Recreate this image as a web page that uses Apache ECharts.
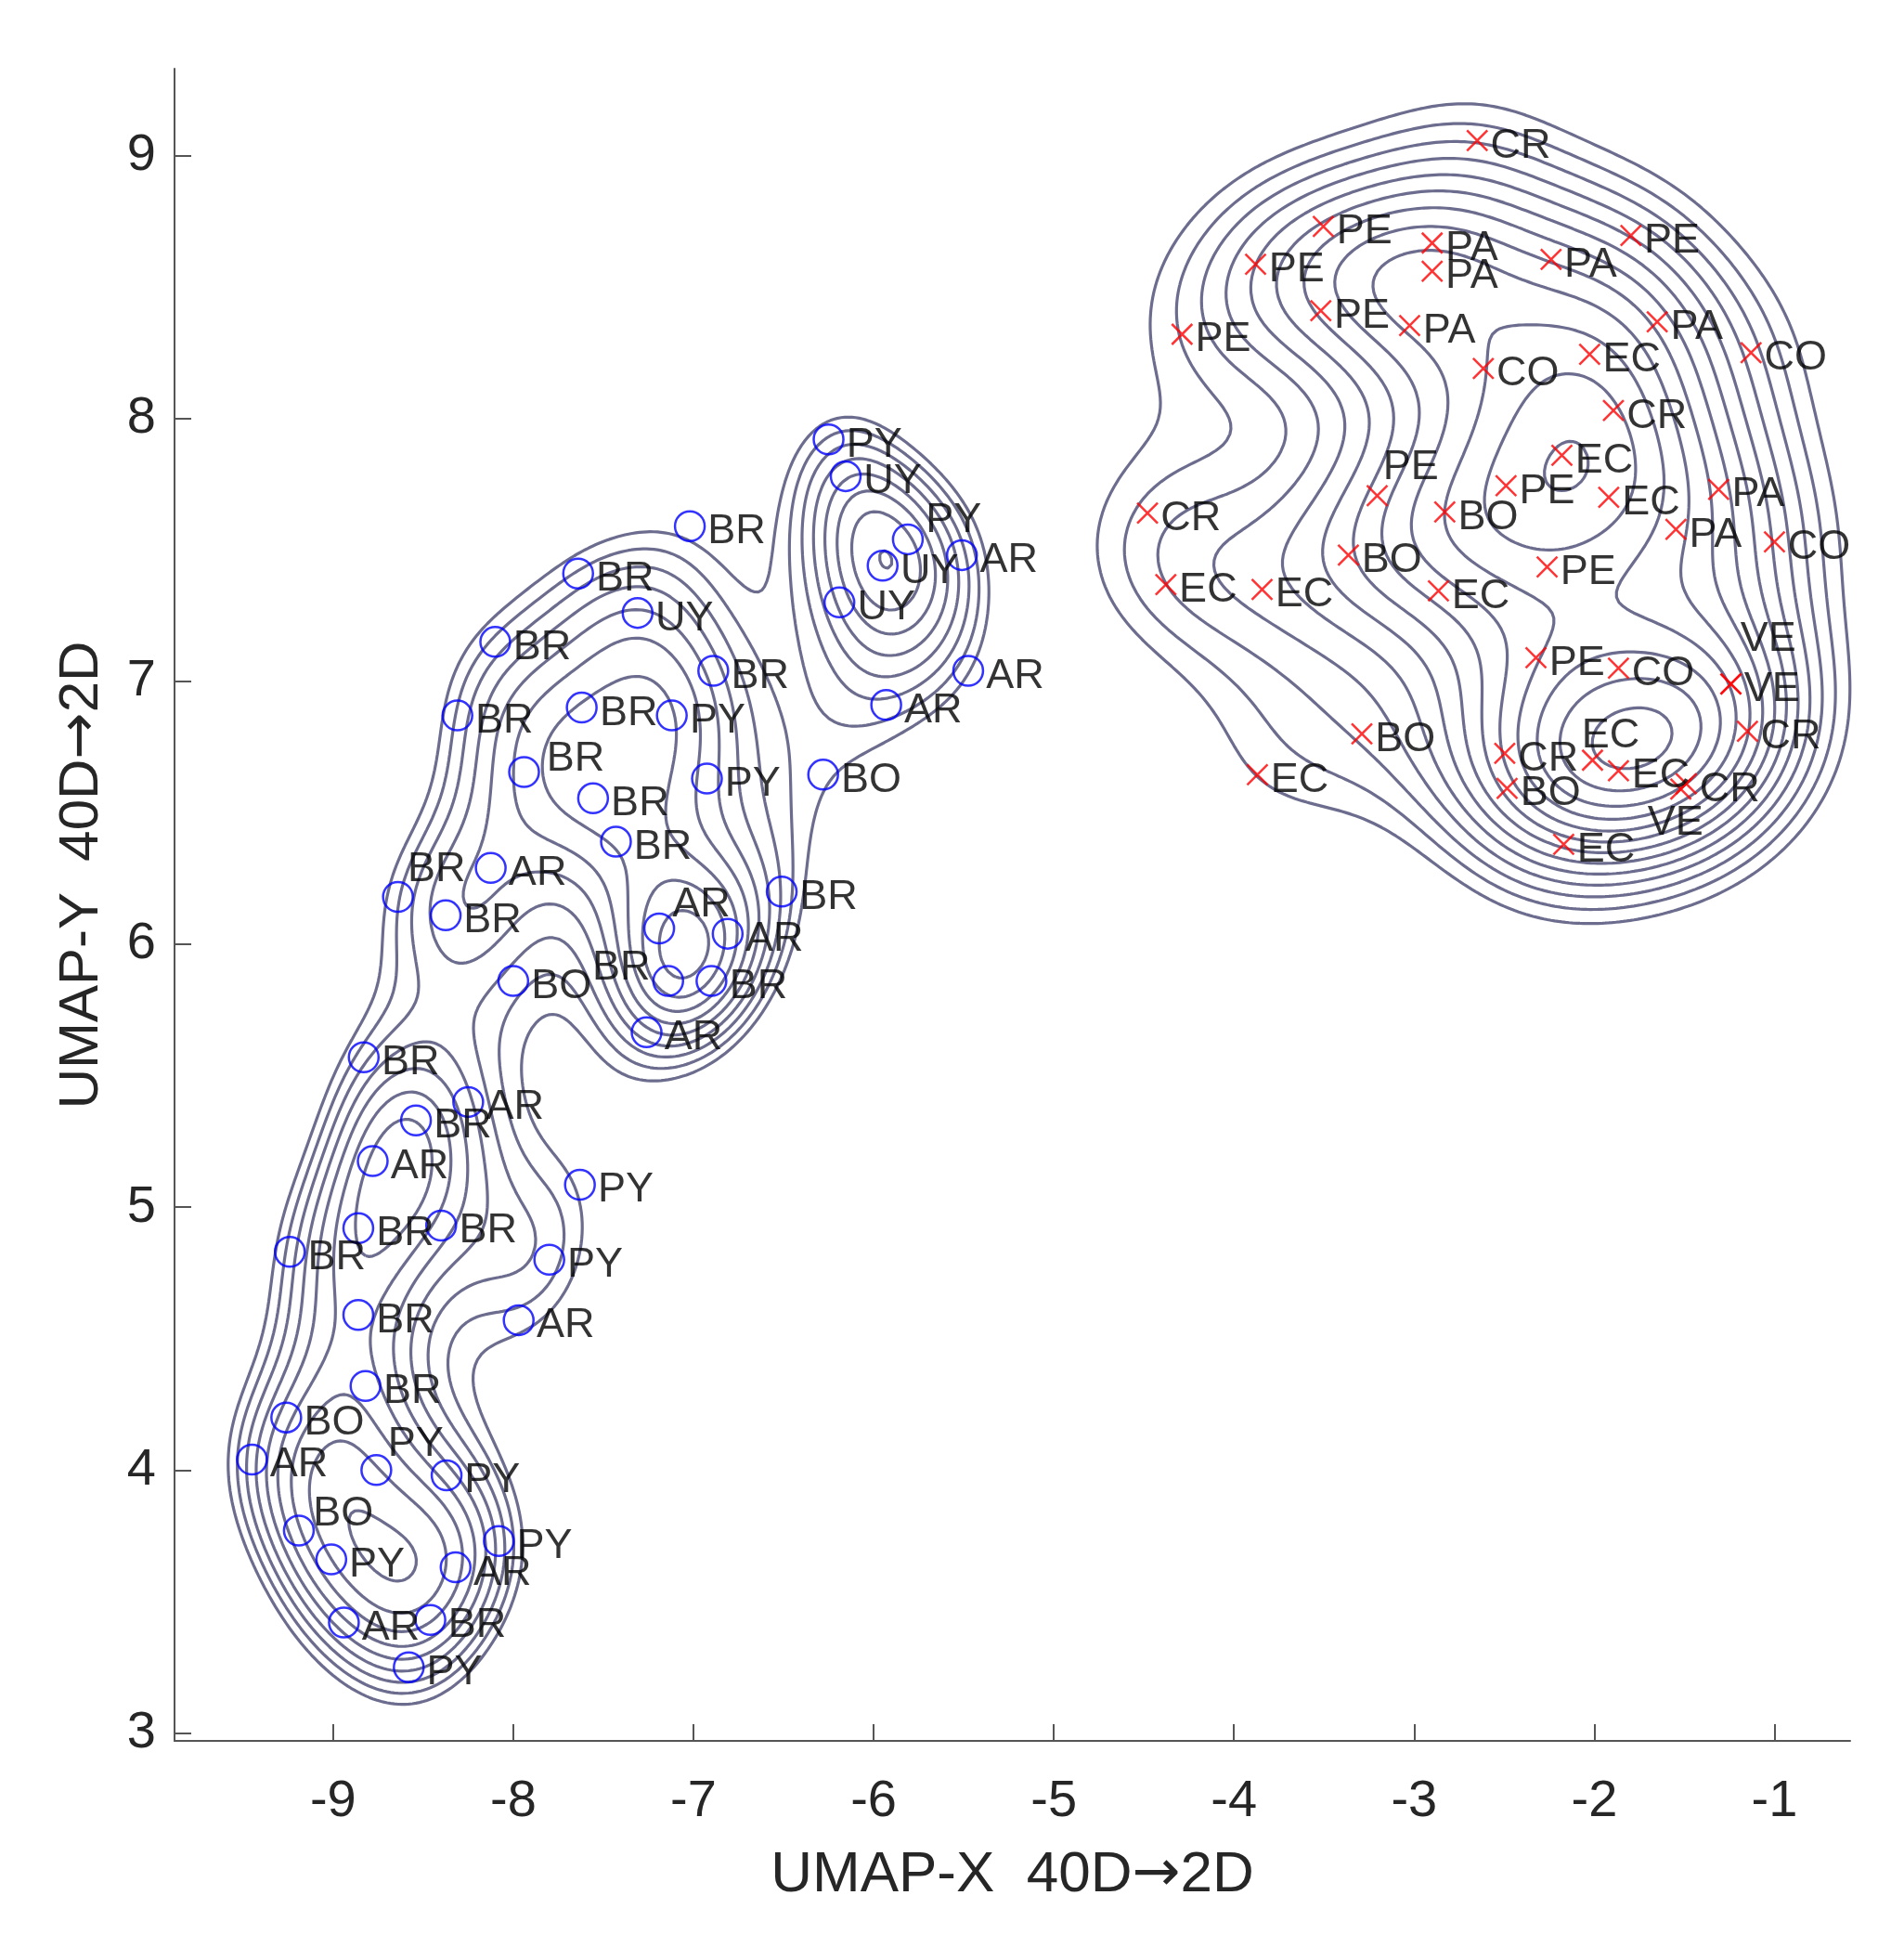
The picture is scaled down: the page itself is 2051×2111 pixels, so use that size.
<!DOCTYPE html>
<html>
<head>
<meta charset="utf-8">
<title>UMAP 40D to 2D</title>
<script src="https://cdn.jsdelivr.net/npm/echarts@6/dist/echarts.min.js"></script>
<style>
html, body { margin: 0; padding: 0; background: #fff; }
#chart { width: 2051px; height: 2111px; }
</style>
</head>
<body>
<div id="chart"></div>
<script>
// blue circles (left cluster)
var circX = [-6.25, -6.155, -5.81, -5.95, -5.51, -6.19, -7.02, -7.64, -7.31, -8.10, -6.89, -8.31, -7.62, -7.12, -7.94, -6.925, -6.28, -7.557, -7.43, -5.93, -5.475, -8.125, -8.64, -8.375, -7.19, -6.81, -6.51, -7.14, -6.90, -8.0, -7.26, -8.83, -8.25, -8.54, -8.78, -7.63, -8.86, -8.40, -9.24, -7.80, -8.86, -7.97, -8.82, -9.26, -9.45, -8.76, -8.37, -9.19, -9.01, -8.08, -8.32, -8.94, -8.46, -8.58]
var circY = [7.92, 7.78, 7.54, 7.44, 7.48, 7.30, 7.59, 7.41, 7.26, 7.15, 7.04, 6.87, 6.90, 6.87, 6.655, 6.63, 6.645, 6.555, 6.39, 6.91, 7.04, 6.29, 6.18, 6.11, 6.06, 6.04, 6.20, 5.86, 5.86, 5.86, 5.665, 5.57, 5.40, 5.33, 5.175, 5.085, 4.92, 4.93, 4.83, 4.80, 4.59, 4.57, 4.32, 4.20, 4.04, 4.00, 3.98, 3.77, 3.66, 3.73, 3.63, 3.42, 3.43, 3.25]
var circLabel = ['PY', 'UY', 'PY', 'UY', 'AR', 'UY', 'BR', 'BR', 'UY', 'BR', 'BR', 'BR', 'BR', 'PY', 'BR', 'PY', 'BO', 'BR', 'BR', 'AR', 'AR', 'AR', 'BR', 'BR', 'AR', 'AR', 'BR', 'BR', 'BR', 'BO', 'AR', 'BR', 'AR', 'BR', 'AR', 'PY', 'BR', 'BR', 'BR', 'PY', 'BR', 'AR', 'BR', 'BO', 'AR', 'PY', 'PY', 'BO', 'PY', 'PY', 'AR', 'AR', 'BR', 'PY']

// red crosses (right cluster)
var crossX = [-2.65, -3.504, -2.90, -2.90, -3.88, -2.24, -1.797, -3.518, -3.025, -4.288, -1.651, -2.616, -2.026, -1.13, -1.894, -2.18, -3.205, -2.83, -2.49, -1.92, -1.31, -1.547, -1.0, -4.48, -3.365, -4.378, -3.844, -2.865, -2.262, -2.324, -1.866, -1.242, -1.242, -1.15, -3.29, -3.87, -2.497, -2.484, -2.01, -1.866, -1.49, -1.52, -2.17]
var crossY = [9.057, 8.73, 8.667, 8.56, 8.586, 8.605, 8.696, 8.41, 8.353, 8.32, 8.367, 8.19, 8.244, 8.25, 8.03, 7.86, 7.706, 7.644, 7.744, 7.70, 7.73, 7.578, 7.53, 7.64, 7.48, 7.368, 7.349, 7.344, 7.435, 7.09, 7.05, 6.99, 6.99, 6.81, 6.80, 6.645, 6.726, 6.593, 6.70, 6.66, 6.61, 6.59, 6.38]
var crossLabel = ['CR', 'PE', 'PA', 'PA', 'PE', 'PA', 'PE', 'PE', 'PA', 'PE', 'PA', 'CO', 'EC', 'CO', 'CR', 'EC', 'PE', 'BO', 'PE', 'EC', 'PA', 'PA', 'CO', 'CR', 'BO', 'EC', 'EC', 'EC', 'PE', 'PE', 'CO', 'VE', 'VE', 'CR', 'BO', 'EC', 'CR', 'BO', 'EC', 'EC', 'CR', 'VE', 'EC']

var xTicks = [-9, -8, -7, -6, -5, -4, -3, -2, -1]
var yTicks = [3, 4, 5, 6, 7, 8, 9]

// label nudges in pixels (where the text sits away from its marker)
var circShift = { 2: [0, -26], 14: [5, -20], 22: [-9, -35], 24: [-5, -31], 45: [-7, -34], 47: [-4, -24] }
var circLeft = { 27: [0, -20] }
var crossShift = { 16: [-8, -36], 31: [-4, -54], 38: [-26, -32], 41: [-50, 31] }

var FONT = "'Liberation Sans', Arial, sans-serif"
var lineColor = '#6c6c8e'

// density grid
var gx0 = -10.4, gx1 = 0.2, gy0 = 2.4, gy1 = 9.9, gs = 0.02
var nx = Math.round((gx1 - gx0) / gs) + 1
var ny = Math.round((gy1 - gy0) / gs) + 1
var gxs = [], gys = []
for (var i = 0; i < nx; i++) gxs.push(gx0 + i * gs)
for (var j = 0; j < ny; j++) gys.push(gy0 + j * gs)

// gaussian kernel sum of one group, in "points" units
function density(px, py, bx, by) {
    var Z = new Float64Array(nx * ny)
    for (var k = 0; k < px.length; k++) {
        var i0 = Math.max(0, Math.floor((px[k] - 5 * bx - gx0) / gs))
        var i1 = Math.min(nx - 1, Math.ceil((px[k] + 5 * bx - gx0) / gs))
        var j0 = Math.max(0, Math.floor((py[k] - 5 * by - gy0) / gs))
        var j1 = Math.min(ny - 1, Math.ceil((py[k] + 5 * by - gy0) / gs))
        for (var jj = j0; jj <= j1; jj++) {
            var dy = (gys[jj] - py[k]) / by
            for (var ii = i0; ii <= i1; ii++) {
                var dx = (gxs[ii] - px[k]) / bx
                Z[jj * nx + ii] += Math.exp(-0.5 * (dx * dx + dy * dy))
            }
        }
    }
    return Z
}

// marching squares, segments joined into polylines
function contourPaths(Z, level) {
    var pts = {}, adj = {}
    function val(i, j) { return Z[j * nx + i] }
    function link(a, b) {
        (adj[a] = adj[a] || []).push(b);
        (adj[b] = adj[b] || []).push(a)
    }
    for (var j = 0; j < ny - 1; j++) {
        for (var i = 0; i < nx - 1; i++) {
            var v0 = val(i, j), v1 = val(i + 1, j), v2 = val(i + 1, j + 1), v3 = val(i, j + 1)
            var c = (v0 > level ? 1 : 0) | (v1 > level ? 2 : 0) | (v2 > level ? 4 : 0) | (v3 > level ? 8 : 0)
            if (c === 0 || c === 15) continue
            var keys = ['h' + i + '_' + j, 'v' + (i + 1) + '_' + j, 'h' + i + '_' + (j + 1), 'v' + i + '_' + j]
            var e = function (n) {
                var k = keys[n]
                if (!pts[k]) {
                    var t
                    if (n === 0) { t = (level - v0) / (v1 - v0); pts[k] = [gxs[i] + t * gs, gys[j]] }
                    if (n === 1) { t = (level - v1) / (v2 - v1); pts[k] = [gxs[i + 1], gys[j] + t * gs] }
                    if (n === 2) { t = (level - v3) / (v2 - v3); pts[k] = [gxs[i] + t * gs, gys[j + 1]] }
                    if (n === 3) { t = (level - v0) / (v3 - v0); pts[k] = [gxs[i], gys[j] + t * gs] }
                }
                return k
            }
            var mid = (v0 + v1 + v2 + v3) / 4 > level
            switch (c) {
                case 1: case 14: link(e(3), e(0)); break
                case 2: case 13: link(e(0), e(1)); break
                case 3: case 12: link(e(3), e(1)); break
                case 4: case 11: link(e(1), e(2)); break
                case 6: case 9: link(e(0), e(2)); break
                case 7: case 8: link(e(3), e(2)); break
                case 5:
                    if (mid) { link(e(0), e(1)); link(e(2), e(3)) } else { link(e(3), e(0)); link(e(1), e(2)) }
                    break
                case 10:
                    if (mid) { link(e(3), e(0)); link(e(1), e(2)) } else { link(e(0), e(1)); link(e(2), e(3)) }
                    break
            }
        }
    }
    var seen = {}, paths = []
    function walk(start) {
        var path = [pts[start]], cur = start
        seen[start] = true
        while (true) {
            var nb = adj[cur].filter(function (k) { return !seen[k] })[0]
            if (nb === undefined) {
                if (path.length > 2 && adj[cur].indexOf(start) >= 0) path.push(pts[start])
                break
            }
            seen[nb] = true
            path.push(pts[nb])
            cur = nb
        }
        return path
    }
    var k
    for (k in adj) if (adj[k].length === 1 && !seen[k]) paths.push(walk(k))
    for (k in adj) if (!seen[k]) paths.push(walk(k))
    return paths
}

var series = []
function addContours(Z, start, step) {
    var zmax = 0
    for (var q = 0; q < Z.length; q++) if (Z[q] > zmax) zmax = Z[q]
    for (var lev = start; lev < zmax; lev += step) {
        contourPaths(Z, lev).forEach(function (p) {
            if (p.length < 3) return
            series.push({
                type: 'line',
                data: p,
                symbol: 'none',
                clip: false,
                silent: true,
                z: 1,
                lineStyle: { color: lineColor, width: 3.2 }
            })
        })
    }
}
addContours(density(circX, circY, 0.35, 0.31), 2.2, 0.28)
addContours(density(crossX, crossY, 0.48, 0.33), 1.65, 0.41)

var circData = circX.map(function (x, n) {
    var item = { value: [x, circY[n]], name: circLabel[n] }
    if (circShift[n]) item.label = { offset: [circShift[n][0], 6 + circShift[n][1]] }
    if (circLeft[n]) item.label = { position: 'left', offset: [circLeft[n][0], 6 + circLeft[n][1]] }
    return item
})
var crossData = crossX.map(function (x, n) {
    var item = { value: [x, crossY[n]], name: crossLabel[n] }
    if (crossShift[n]) item.label = { offset: [crossShift[n][0], 6 + crossShift[n][1]] }
    return item
})

var pointLabel = {
    show: true,
    position: 'right',
    distance: 2,
    offset: [0, 6],
    formatter: '{b}',
    color: '#000',
    fontSize: 45,
    fontFamily: FONT
}

series.push({
    type: 'scatter',
    data: circData,
    symbol: 'circle',
    symbolSize: 32,
    z: 3,
    itemStyle: { color: 'rgba(0,0,0,0)', borderColor: '#0000ff', borderWidth: 2.5 },
    label: pointLabel
})
series.push({
    type: 'scatter',
    data: crossData,
    symbol: 'path://M0 0L10 10M10 0L0 10',
    symbolSize: 22,
    z: 3,
    itemStyle: { color: 'rgba(0,0,0,0)', borderColor: '#ff0000', borderWidth: 2.5 },
    label: pointLabel
})

function nameStyle(size, pad) {
    return {
        fontSize: size,
        color: '#262626',
        fontFamily: FONT,
        padding: pad,
        rich: { arr: { fontSize: size, color: '#262626', fontFamily: 'DejaVu Sans' } }
    }
}
var axisCommon = {
    type: 'value',
    nameLocation: 'middle',
    axisLine: { show: true, lineStyle: { color: '#555', width: 2 } },
    splitLine: { show: false }
}
var tickStyle = { show: true, inside: true, length: 18, lineStyle: { color: '#555', width: 2 } }

var option = {
    animation: false,
    backgroundColor: '#fff',
    grid: { left: 188, right: 58, top: 74, bottom: 236, outerBoundsMode: 'none' },
    xAxis: Object.assign({}, axisCommon, {
        min: -9.88,
        max: -0.58,
        name: 'UMAP-X  40D{arr|\u2192}2D',
        nameGap: 114,
        nameTextStyle: nameStyle(62, [0, 0, 0, 0]),
        axisTick: Object.assign({}, tickStyle, { customValues: xTicks }),
        axisLabel: { customValues: xTicks, fontSize: 56, margin: 38, color: '#262626', fontFamily: FONT }
    }),
    yAxis: Object.assign({}, axisCommon, {
        min: 2.97,
        max: 9.33,
        name: 'UMAP-Y  40D{arr|\u2192}2D',
        nameGap: 70,
        nameTextStyle: nameStyle(60, [0, 0, 0, 64]),
        axisTick: Object.assign({}, tickStyle, { customValues: yTicks }),
        axisLabel: { customValues: yTicks, fontSize: 56, margin: 20, color: '#262626', fontFamily: FONT }
    }),
    series: series
}

var myChart = echarts.init(document.getElementById('chart'))
myChart.setOption(option)
window.addEventListener('resize', function () {
    myChart.resize()
})
</script>
</body>
</html>
